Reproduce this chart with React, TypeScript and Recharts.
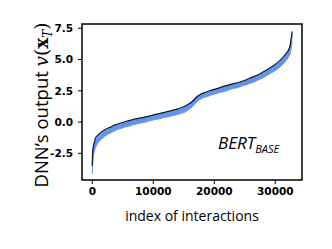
import React from 'react';
import { ComposedChart, Line, Area, XAxis, YAxis, ReferenceArea } from 'recharts';

const lineIdx = [0, 20, 60, 150, 300, 500, 800, 1200, 1600, 2200, 3000, 3800, 5000, 6500, 8000, 9500, 11000, 12700, 14000, 15000, 15800, 16400, 17100, 17700, 18200, 19200, 20400, 21500, 22600, 24200, 25800, 27500, 28700, 29700, 30600, 31300, 31800, 32150, 32400, 32570, 32700, 32768];
const lineVal = [-3.5, -2.9, -2.4, -2.0, -1.7, -1.3, -1.1, -0.92, -0.75, -0.58, -0.4, -0.22, -0.03, 0.18, 0.33, 0.5, 0.68, 0.87, 1.05, 1.22, 1.45, 1.65, 2.0, 2.2, 2.32, 2.5, 2.67, 2.85, 3.0, 3.2, 3.5, 3.87, 4.2, 4.5, 4.85, 5.2, 5.5, 5.75, 6.05, 6.6, 6.95, 7.25];

const blueIdx = [0, 30, 80, 200, 400, 700, 1000, 1500, 2000, 2600, 3300, 4000, 4700, 5400, 6100, 6800, 7500, 8200, 8900, 9600, 10300, 11000, 11700, 12400, 13100, 13800, 14500, 15200, 15800, 16400, 17000, 17600, 18200, 18900, 19600, 20300, 21000, 21700, 22400, 23100, 23800, 24500, 25200, 25900, 26600, 27300, 28000, 28700, 29400, 30100, 30800, 31400, 31900, 32300, 32550, 32700, 32768];
const blueHigh = [-3.6, -2.9, -2.4, -2.0, -1.6, -1.3, -1.12, -0.9, -0.72, -0.58, -0.42, -0.28, -0.15, -0.05, 0.05, 0.14, 0.22, 0.3, 0.38, 0.45, 0.53, 0.6, 0.68, 0.76, 0.85, 0.96, 1.05, 1.18, 1.38, 1.6, 1.92, 2.12, 2.28, 2.38, 2.48, 2.6, 2.68, 2.8, 2.9, 3.0, 3.1, 3.2, 3.32, 3.45, 3.58, 3.75, 3.92, 4.12, 4.32, 4.55, 4.82, 5.12, 5.42, 5.8, 6.3, 6.7, 7.0];
const blueLow = [-4.15, -3.7, -3.1, -2.6, -2.2, -1.85, -1.6, -1.35, -1.15, -0.95, -0.8, -0.6, -0.52, -0.38, -0.32, -0.2, -0.12, -0.05, 0.02, 0.12, 0.2, 0.26, 0.36, 0.42, 0.5, 0.58, 0.68, 0.8, 1.0, 1.22, 1.55, 1.8, 1.95, 2.05, 2.18, 2.27, 2.38, 2.45, 2.58, 2.68, 2.75, 2.88, 2.98, 3.1, 3.22, 3.38, 3.55, 3.75, 3.95, 4.15, 4.42, 4.7, 5.0, 5.3, 5.7, 6.2, 6.5];

const xTicks = [0, 10000, 20000, 30000];
const yTicks = [-2.5, 0.0, 2.5, 5.0, 7.5];
const X_DOMAIN: [number, number] = [-1690, 34380];
const Y_DOMAIN: [number, number] = [-4.63, 7.84];

const lineData = lineIdx.map((i, k) => ({ i, v: lineVal[k] }));
const blueData = blueIdx.map((i, k) => ({ i, band: [blueLow[k], blueHigh[k]] }));

const tickStyle = { fontFamily: 'DejaVu Sans', fontWeight: 700, fontSize: 10.5, fill: '#000' };

export default function App() {
  return (
    <div style={{ position: 'absolute', left: 0, top: 0, width: 332, height: 249, background: '#fff' }}>
      <ComposedChart width={332} height={249} margin={{ top: 24, right: 30, bottom: 0, left: 0 }}>
        <XAxis
          type="number"
          dataKey="i"
          domain={X_DOMAIN}
          ticks={xTicks}
          allowDataOverflow
          height={69}
          tick={tickStyle}
          tickSize={4}
          tickMargin={4}
          axisLine={false}
          tickLine={{ stroke: '#000', strokeWidth: 1 }}
        />
        <YAxis
          type="number"
          domain={Y_DOMAIN}
          ticks={yTicks}
          allowDataOverflow
          width={82}
          tick={tickStyle}
          tickSize={4}
          tickMargin={5}
          axisLine={false}
          tickLine={{ stroke: '#000', strokeWidth: 1 }}
          tickFormatter={(v: number) => v.toFixed(1)}
        />
        <Area
          data={blueData}
          dataKey="band"
          type="linear"
          stroke="#6495ED"
          strokeWidth={1}
          fill="#6495ED"
          fillOpacity={1}
          isAnimationActive={false}
          dot={false}
          activeDot={false}
        />
        <Line
          data={lineData}
          dataKey="v"
          type="monotone"
          stroke="#111122"
          strokeWidth={1.2}
          dot={false}
          activeDot={false}
          isAnimationActive={false}
        />
        <ReferenceArea
          x1={X_DOMAIN[0]}
          x2={X_DOMAIN[1]}
          y1={Y_DOMAIN[0]}
          y2={Y_DOMAIN[1]}
          fill="none"
          stroke="#000"
          strokeWidth={1.5}
          ifOverflow="extendDomain"
        />
      </ComposedChart>
      <svg width={332} height={249} style={{ position: 'absolute', left: 0, top: 0, pointerEvents: 'none' }}>
        <text x={192} y={221} textAnchor="middle" fontFamily="Open Sans" fontSize={14} fill="#000">
          index of interactions
        </text>
        <text transform="translate(48, 105) rotate(-90)" x={0} y={0} textAnchor="middle" fontSize={18.5} fill="#000">
          <tspan fontFamily="Open Sans">DNN’s output </tspan>
          <tspan fontFamily="DejaVu Serif" fontStyle="italic">v</tspan>
          <tspan fontFamily="DejaVu Serif">(</tspan>
          <tspan fontFamily="DejaVu Serif" fontWeight={700}>x</tspan>
          <tspan fontFamily="DejaVu Serif" fontStyle="italic" fontSize={12} dy={4}>T</tspan>
          <tspan fontFamily="DejaVu Serif" dy={-4}>)</tspan>
        </text>
        <text x={218} y={149} fontFamily="Open Sans" fontStyle="italic" fontSize={17} fill="#000">
          BERT<tspan fontSize={11} dy={3.5}>BASE</tspan>
        </text>
      </svg>
    </div>
  );
}
